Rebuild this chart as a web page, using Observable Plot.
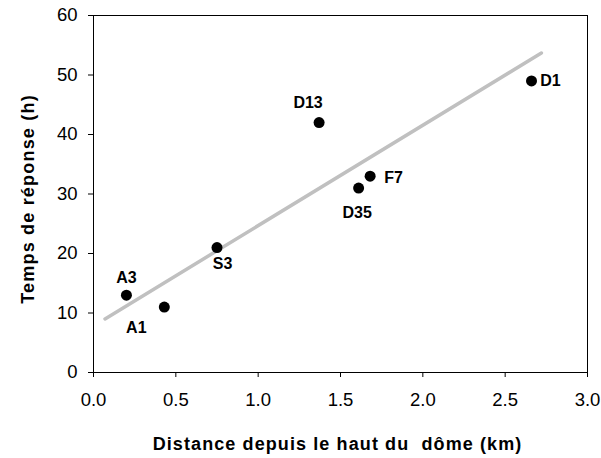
<!DOCTYPE html>
<html><head><meta charset="utf-8">
<script src="https://cdn.jsdelivr.net/npm/d3@7"></script>
<script src="https://cdn.jsdelivr.net/npm/@observablehq/plot@0.6"></script>
<style>
body{margin:0;background:#fff;}
#chart svg{font-family:"Liberation Sans",Arial,sans-serif;background:#fff;}
</style>
</head><body><div id="chart"></div>
<script>
const sites = ["A3","A1","S3","D13","F7","D35","D1"];
const distance = [0.20,0.43,0.75,1.37,1.68,1.61,2.66];
const responseTime = [13,11,21,42,33,31,49];
const trendX = [0.07, 2.72];
const trendY = [9.0, 53.7];
const xTicks = [0,0.5,1,1.5,2,2.5,3];
const yTicks = [0,10,20,30,40,50,60];
const xTitle = "Distance depuis le haut du\u00a0 dôme (km)";
const yTitle = "Temps de réponse (h)";

// label offsets (style): [dx, dy] in px from the point
const labelPlacement = {A3:[0,-17], A1:[-28,20.5], S3:[5.5,16.5], D13:[-11,-19.5], F7:[23.5,1.5], D35:[-1.5,25], D1:[19,0]};

const points = sites.map((s,i)=>({site:s, x:distance[i], y:responseTime[i]}));
const trend = trendX.map((x,i)=>({x, y:trendY[i]}));

const labelMarks = points.map(p => Plot.text([p], {
  x:"x", y:"y", text:"site",
  dx: labelPlacement[p.site][0], dy: labelPlacement[p.site][1],
  lineAnchor:"middle", textAnchor:"middle",
  fontSize:16, fontWeight:"bold", fill:"#000"
}));

const chart = Plot.plot({
  width:601, height:458,
  marginLeft:93, marginRight:14, marginTop:15, marginBottom:86,
  style:{fontFamily:'"Liberation Sans",Arial,sans-serif', background:"#fff"},
  x:{domain:[0,3]},
  y:{domain:[0,60]},
  marks:[
    Plot.line(trend, {x:"x", y:"y", stroke:"#c0c0c0", strokeWidth:3.5}),
    Plot.dot(points, {x:"x", y:"y", r:5.5, fill:"#000", stroke:"none"}),
    ...labelMarks,
    Plot.frame({stroke:"#000", strokeWidth:1}),
    Plot.axisX(xTicks, {tickSize:5, tickPadding:15, tickFormat:d3.format(".1f"), fontSize:18.5, label:null, stroke:"#000", fill:"#000"}),
    Plot.axisY(yTicks, {tickSize:5, tickPadding:11, fontSize:18.5, label:null, stroke:"#000", fill:"#000"}),
    Plot.text([xTitle], {frameAnchor:"bottom", dy:77, lineAnchor:"bottom", textAnchor:"middle", dx:-3, fontSize:18, fontWeight:"bold", fill:"#000"}),
    Plot.text([yTitle], {frameAnchor:"left", dx:-60, dy:5, rotate:-90, lineAnchor:"bottom", textAnchor:"middle", fontSize:18, fontWeight:"bold", fill:"#000"})
  ]
});
d3.select(chart).selectAll("text").each(function(){
  const t = this.textContent;
  if (t === xTitle) this.style.letterSpacing = "1.1px";
  else if (t === yTitle) this.style.letterSpacing = "1.2px";
});
document.getElementById("chart").appendChild(chart);
</script>
</body></html>
